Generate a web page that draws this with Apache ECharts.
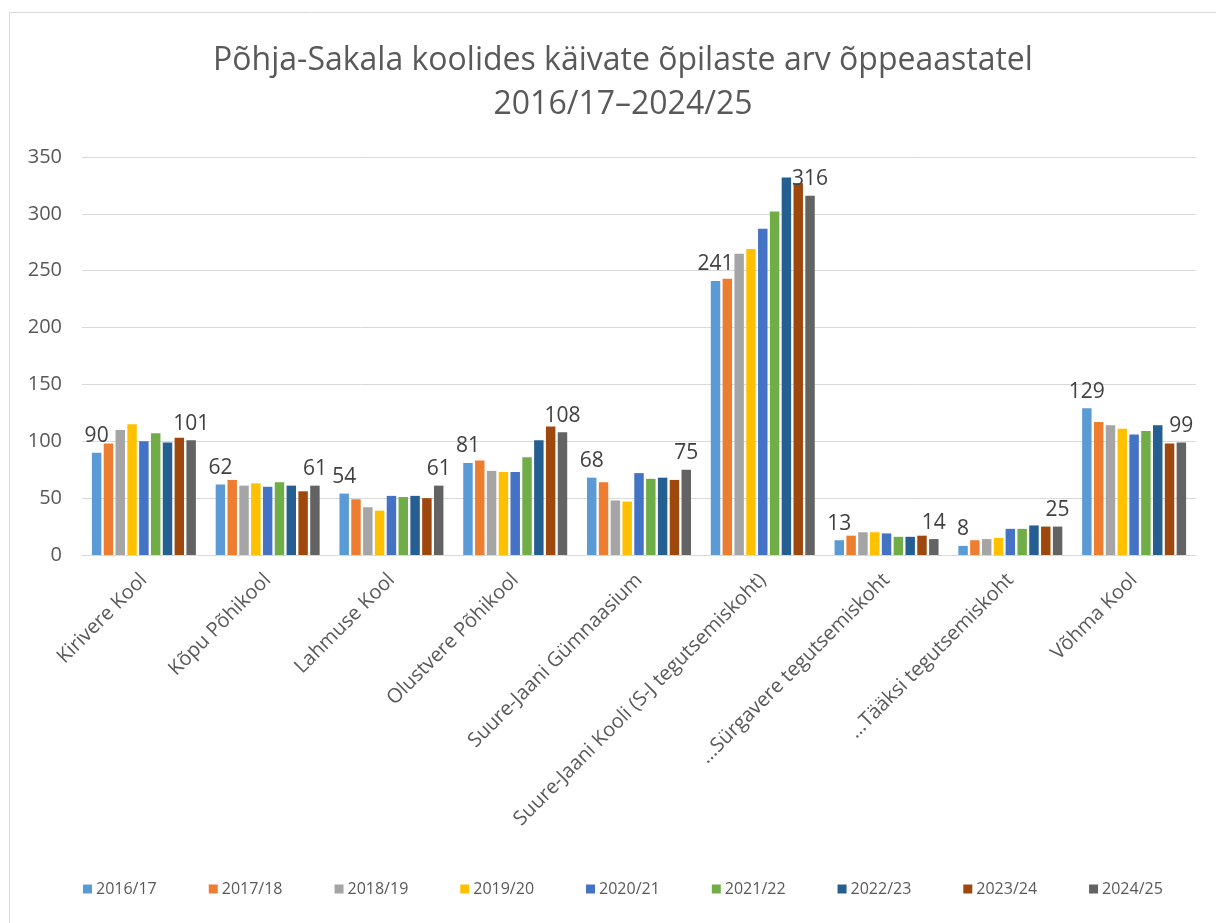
<!DOCTYPE html>
<html>
<head>
<meta charset="utf-8">
<script src="https://cdn.jsdelivr.net/npm/echarts@6/dist/echarts.min.js"></script>
<style>
html,body{margin:0;padding:0;background:#fff;}
#chart{width:1216px;height:923px;}
</style>
</head>
<body>
<div id="chart"></div>
<script>
const categories = ["Kirivere Kool","Kõpu Põhikool","Lahmuse Kool","Olustvere Põhikool","Suure-Jaani Gümnaasium","Suure-Jaani Kooli (S-J tegutsemiskoht)","…Sürgavere tegutsemiskoht","…Tääksi tegutsemiskoht","Võhma Kool"];
const seriesNames = ["2016/17","2017/18","2018/19","2019/20","2020/21","2021/22","2022/23","2023/24","2024/25"];
const y2016 = [90, 62, 54, 81, 68, 241, 13, 8, 129];
const y2017 = [98, 66, 49, 83, 64, 243, 17, 13, 117];
const y2018 = [110, 61, 42, 74, 48, 265, 20, 14, 114];
const y2019 = [115, 63, 39, 73, 47, 269, 20, 15, 111];
const y2020 = [100, 60, 52, 73, 72, 287, 19, 23, 106];
const y2021 = [107, 64, 51, 86, 67, 302, 16, 23, 109];
const y2022 = [99, 61, 52, 101, 68, 332, 16, 26, 114];
const y2023 = [103, 56, 50, 113, 66, 327, 17, 25, 98];
const y2024 = [101, 61, 61, 108, 75, 316, 14, 25, 99];
const yTicks = [0, 50, 100, 150, 200, 250, 300, 350];
const titleText = "Põhja-Sakala koolides käivate õpilaste arv õppeaastatel\n2016/17–2024/25";

const allValues = [y2016,y2017,y2018,y2019,y2020,y2021,y2022,y2023,y2024];
const colors = ["#5B9BD5","#ED7D31","#A5A5A5","#FFC000","#4472C4","#70AD47","#255E91","#9E480E","#636363"];
const FONT = "Open Sans";

const series = seriesNames.map((name, i) => ({
  name: name,
  type: 'bar',
  data: allValues[i],
  barGap: '25%',
  barCategoryGap: '16%',
  itemStyle: { color: colors[i] },
  label: {
    show: i === 0 || i === seriesNames.length - 1,
    position: 'top',
    distance: 6,
    fontFamily: FONT,
    fontSize: 21,
    color: '#404040'
  },
  emphasis: { disabled: true }
}));

const chart = echarts.init(document.getElementById('chart'), null, { renderer: 'canvas' });
chart.setOption({
  animation: false,
  backgroundColor: '#ffffff',
  title: {
    text: titleText,
    left: 618,
    top: 34,
    textAlign: 'center',
    textStyle: {
      fontFamily: FONT,
      fontSize: 32,
      fontWeight: 'normal',
      color: '#595959',
      lineHeight: 44
    }
  },
  graphic: [{
    type: 'rect',
    shape: { x: 9.5, y: 12.5, width: 1240, height: 1000 },
    style: { fill: 'none', stroke: '#d9d9d9', lineWidth: 1 },
    silent: true,
    z: -1
  }],
  grid: { left: 82, right: 20, top: 157, bottom: 368, containLabel: false },
  legend: {
    data: seriesNames,
    left: 78,
    top: 876,
    itemWidth: 9,
    itemHeight: 9,
    itemGap: 52,
    icon: 'rect',
    textStyle: { fontFamily: FONT, fontSize: 16, color: '#595959', padding: [0,0,0,-1] }
  },
  xAxis: {
    type: 'category',
    data: categories,
    axisLine: { lineStyle: { color: '#d9d9d9', width: 1 } },
    axisTick: { show: false },
    axisLabel: {
      interval: 0,
      rotate: 45,
      margin: 22,
      fontFamily: FONT,
      fontSize: 20,
      color: '#595959'
    }
  },
  yAxis: {
    type: 'value',
    min: yTicks[0],
    max: yTicks[yTicks.length - 1],
    interval: 50,
    axisLine: { show: false },
    axisTick: { show: false },
    axisLabel: {
      fontFamily: FONT,
      fontSize: 20,
      color: '#595959',
      margin: 20,
      formatter: v => yTicks.includes(v) ? String(v) : ''
    },
    splitLine: { lineStyle: { color: '#d9d9d9', width: 1 } }
  },
  series: series
});
</script>
</body>
</html>
